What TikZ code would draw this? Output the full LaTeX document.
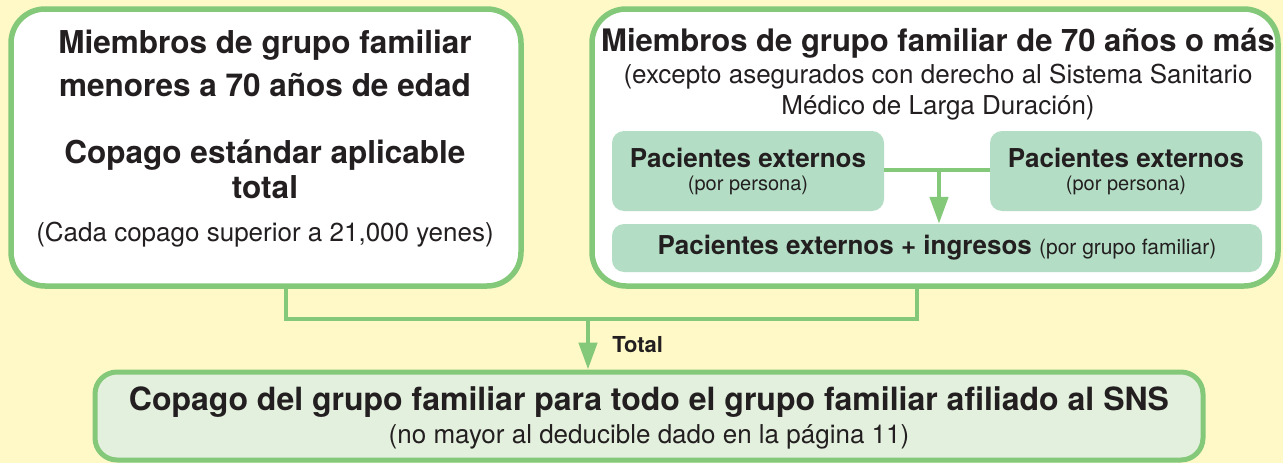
\documentclass[tikz,border=0pt]{standalone}
\usepackage{fontspec}
\setmainfont{TeX Gyre Heros}
\usetikzlibrary{arrows.meta}

\definecolor{leaf}{HTML}{84C87A}
\definecolor{mint}{HTML}{B3DDC4}
\definecolor{pale}{HTML}{E3F0DE}
\definecolor{cream}{HTML}{FFF9C8}
\definecolor{ink}{HTML}{231F20}

\newcommand{\headfont}{\fontsize{31.5}{36}\selectfont\bfseries}
\newcommand{\notefont}{\fontsize{26}{31}\selectfont}
\newcommand{\smallnote}{\fontsize{20}{24}\selectfont}

\begin{document}
\begin{tikzpicture}[
            x=1pt, y=-1pt,
            every node/.style={text=ink, inner sep=0pt},
            outerbox/.style={
              draw=leaf,
              line width=5.5pt,
              rounded corners=34pt,
              fill=white,
            },
            innerbox/.style={
              fill=mint,
              rounded corners=12pt,
            },
            sumbox/.style={
              draw=leaf,
              line width=5pt,
              rounded corners=22pt,
              fill=pale,
            },
            link/.style={draw=leaf, line width=4.5pt},
            >={Triangle[length=27pt, width=18pt]},
          ]
          \fill[cream] (0,0) rectangle (1283,463);
          \useasboundingbox (0,0) rectangle (1283,463);
          % the two groups
          \node[outerbox, minimum width=510pt, minimum height=277pt] at (266,147.5) (lbox) {} ;
          \node[outerbox, minimum width=686pt, minimum height=277pt] at (935,147.5) (rbox) {} ;
          \node at (265,45) (ltitlea) {\headfont Miembros de grupo familiar} ;
          \node at (265,85) (ltitleb) {\headfont menores a 70 años de edad} ;
          \node at (265,155) (lcopa) {\headfont Copago estándar aplicable} ;
          \node at (265,187) (lcopb) {\headfont total} ;
          \node at (265,235) (lnote) {\notefont (Cada copago superior a 21,000 yenes)} ;
          \node at (938,43) (rtitle) {\fontsize{31}{36}\selectfont\bfseries Miembros de grupo familiar de 70 años o más} ;
          \node at (938,77) (rnotea) {\notefont (excepto asegurados con derecho al Sistema Sanitario} ;
          \node at (938,108) (rnoteb) {\notefont Médico de Larga Duración)} ;
          % inside the right group
          \node[innerbox, minimum width=272pt, minimum height=80pt] at (748,171) (outa) {} ;
          \node[innerbox, minimum width=272pt, minimum height=80pt] at (1126,171) (outb) {} ;
          \node[innerbox, minimum width=650pt, minimum height=48pt] at (937,248) (both) {} ;
          \node at (748,158) (outatext) {\notefont\bfseries Pacientes externos} ;
          \node at (748,185) (outanote) {\smallnote (por persona)} ;
          \node at (1126,158) (outbtext) {\notefont\bfseries Pacientes externos} ;
          \node at (1126,185) (outbnote) {\smallnote (por persona)} ;
          \node at (937,248) (bothtext) {\notefont\bfseries Pacientes externos + ingresos {\fontsize{21}{25}\selectfont\mdseries (por grupo familiar)}} ;
          \coordinate (mid) at (939,170) ;
          \draw[link] (outa.east |- mid) -- (outb.west |- mid) ;
          \draw[link, ->] (mid) -- (both.north -| mid) ;
          % total of the family
          \node[sumbox, minimum width=1108pt, minimum height=88pt] at (649,416) (sum) {} ;
          \node at (649,402) (sumtext) {\fontsize{32}{38}\selectfont\bfseries Copago del grupo familiar para todo el grupo familiar afiliado al SNS} ;
          \node at (649,437) (sumnote) {\notefont (no mayor al deducible dado en la página 11)} ;
          \coordinate (join) at (588,319) ;
          \draw[link] ([xshift=20pt]lbox.south) |- (join) -| ([xshift=-18pt]rbox.south) ;
          \draw[link, ->] (join) -- (sum.north -| join) node[pos=0.5, right=22pt] (total) {\fontsize{22}{26}\selectfont\bfseries Total} ;
          \end{tikzpicture}
\end{document}
